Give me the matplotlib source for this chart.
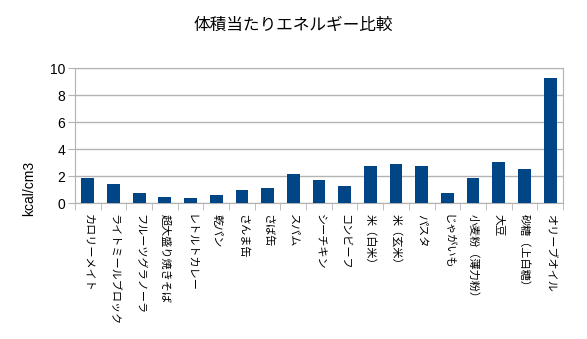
import matplotlib
matplotlib.use('Agg')
import matplotlib.pyplot as plt
import numpy as np

plt.rcParams['font.family'] = ['Noto Sans CJK JP', 'DejaVu Sans']

foods = ['カロリーメイト', 'ライトミールブロック', 'フルーツグラノーラ', '超大盛り焼きそば',
         'レトルトカレー', '乾パン', 'さんま缶', 'さば缶', 'スパム', 'シーチキン',
         'コンビーフ', '米（白米）', '米（玄米）', 'パスタ', 'じゃがいも',
         '小麦粉（薄力粉）', '大豆', '砂糖（上白糖）', 'オリーブオイル']
kcal_per_cm3 = [1.87, 1.43, 0.76, 0.47, 0.39, 0.61, 0.99, 1.13, 2.17, 1.73,
                1.28, 2.76, 2.91, 2.76, 0.76, 1.87, 3.06, 2.54, 9.28]
yticks = [0, 2, 4, 6, 8, 10]

fig = plt.figure(figsize=(5.87, 3.39), dpi=100)
ax = fig.add_axes([0.1278, 0.401, 0.8312, 0.3984])

x = np.arange(len(foods))
ax.bar(x, kcal_per_cm3, width=0.5, color='#004586', zorder=3)

ax.set_xlim(-0.5, len(foods) - 0.5)
ax.set_ylim(0, 10)
ax.set_yticks(yticks)
ax.set_yticklabels([str(t) for t in yticks], family='Liberation Sans', fontsize=10)
ax.set_xticks(x)
ax.set_xticklabels(foods, rotation=270, fontsize=8, va='top', ha='center')
ax.set_xticks(np.arange(-0.5, len(foods)), minor=True)
ax.tick_params(axis='x', which='major', length=0, pad=8)
ax.tick_params(axis='x', which='minor', length=5, color='#b3b3b3')
ax.tick_params(axis='y', length=5, color='#b3b3b3', pad=2)

ax.grid(axis='y', color='#b3b3b3', linewidth=1, zorder=0)
for s in ax.spines.values():
    s.set_color('#b3b3b3')

# y label sits centred on the whole chart area, not the axes
fig.text(29 / 587, 0.445, 'kcal/cm3', family='Liberation Sans', fontsize=10,
         rotation=90, ha='center', va='center')
fig.text(0.5, 0.926, '体積当たりエネルギー比較', fontsize=12, ha='center', va='center')

fig.savefig('out.png', dpi=100)
